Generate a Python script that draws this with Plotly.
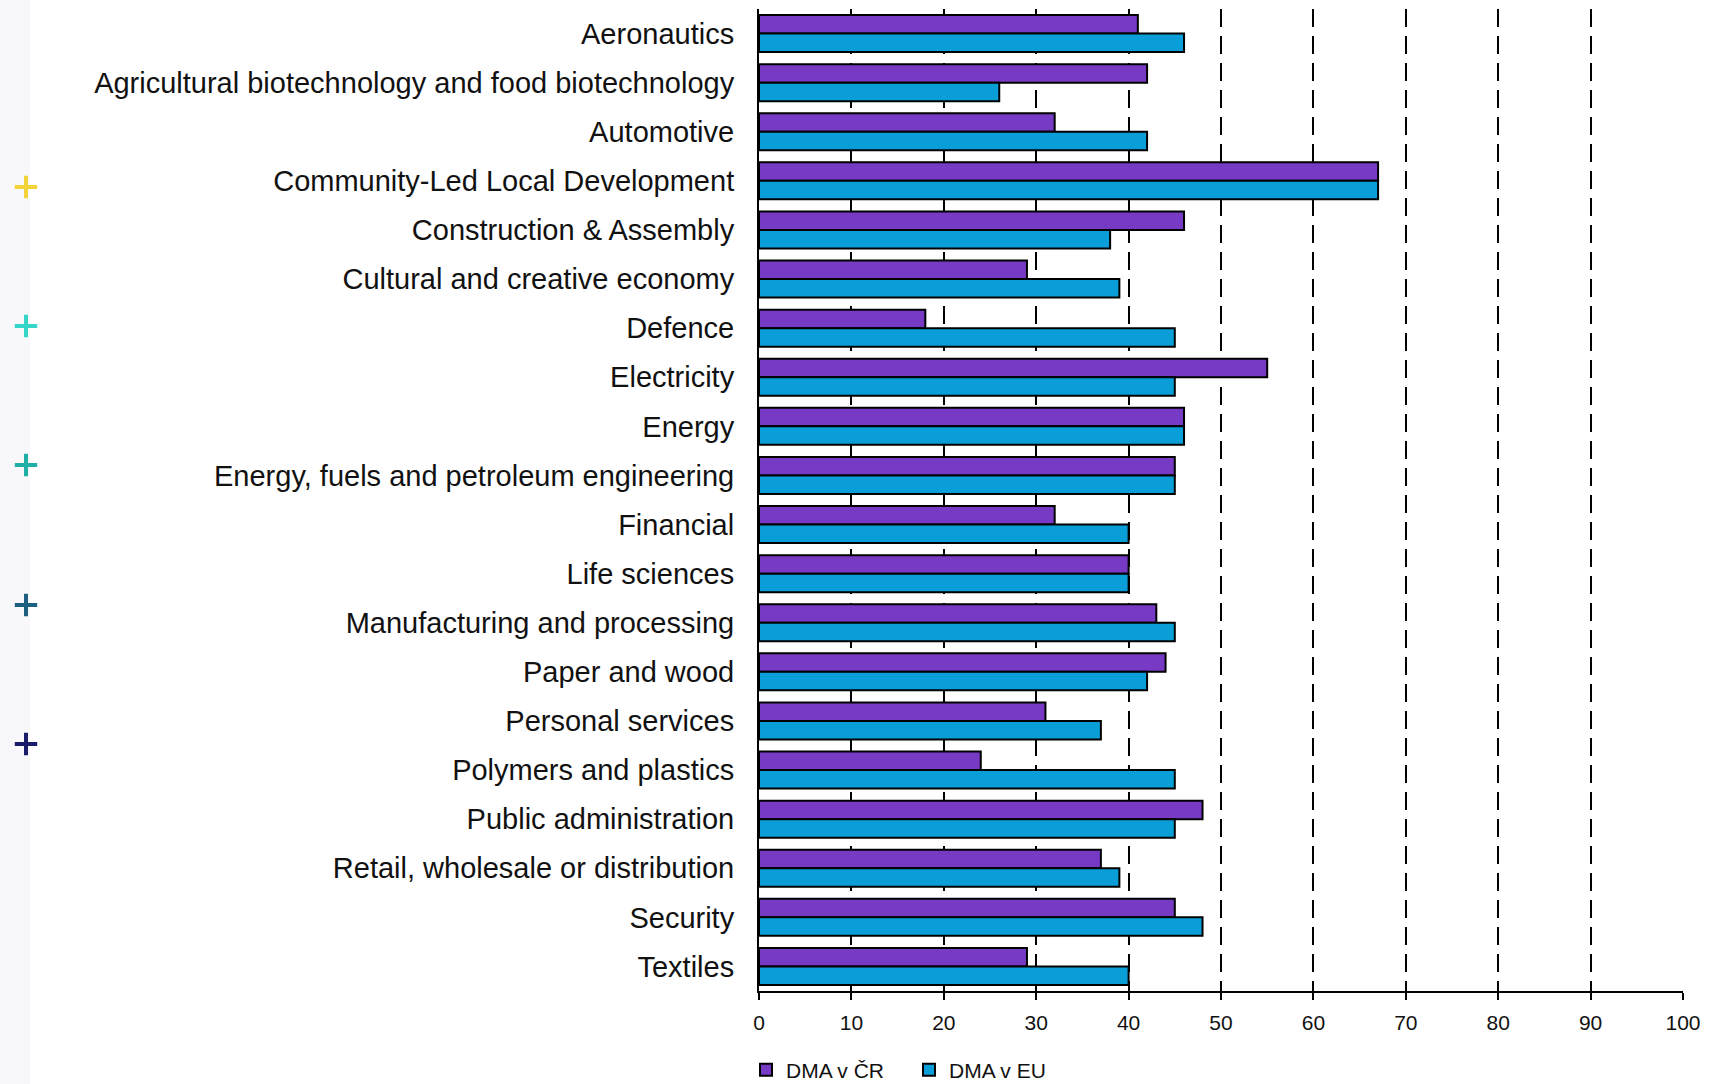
import plotly.graph_objects as go

# sector names, top to bottom
sectors = [
    "Aeronautics",
    "Agricultural biotechnology and food biotechnology",
    "Automotive",
    "Community-Led Local Development",
    "Construction & Assembly",
    "Cultural and creative economy",
    "Defence",
    "Electricity",
    "Energy",
    "Energy, fuels and petroleum engineering",
    "Financial",
    "Life sciences",
    "Manufacturing and processing",
    "Paper and wood",
    "Personal services",
    "Polymers and plastics",
    "Public administration",
    "Retail, wholesale or distribution",
    "Security",
    "Textiles",
]
dma_cr = [41, 42, 32, 67, 46, 29, 18, 55, 46, 45, 32, 40, 43, 44, 31, 24, 48, 37, 45, 29]
dma_eu = [46, 26, 42, 67, 38, 39, 45, 45, 46, 45, 40, 40, 45, 42, 37, 45, 45, 39, 48, 40]

x_ticks = [0, 10, 20, 30, 40, 50, 60, 70, 80, 90, 100]

# little plus markers in the left strip
plus_y = [187, 326, 465, 605, 744]
plus_colors = ["#F2D43A", "#35D6C8", "#1FAFA6", "#1D5F80", "#1B1B6B"]

W, H = 1709, 1084
L, R, T, B = 0, 26, 9, 93
plot_left = 759
dom0 = (plot_left - L) / (W - L - R)

fig = go.Figure()
fig.add_trace(go.Bar(
    y=sectors, x=dma_cr, orientation="h", name="DMA v ČR",
    marker=dict(color="#773AC4", line=dict(color="black", width=2)),
))
fig.add_trace(go.Bar(
    y=sectors, x=dma_eu, orientation="h", name="DMA v EU",
    marker=dict(color="#0A9ED9", line=dict(color="black", width=2)),
))
fig.add_trace(go.Scatter(
    x=[26] * len(plus_y), y=plus_y, mode="markers", showlegend=False,
    xaxis="x2", yaxis="y2", hoverinfo="skip",
    marker=dict(symbol="cross-thin", size=16, line=dict(width=4, color=plus_colors)),
))

fig.update_layout(
    width=W, height=H,
    margin=dict(l=L, r=R, t=T, b=B, autoexpand=False),
    paper_bgcolor="white", plot_bgcolor="white",
    barmode="group", bargap=0.247, bargroupgap=0,
    font=dict(family="Liberation Sans, Arial", color="#111111"),
    showlegend=True,
    legend=dict(orientation="h", x=(746 - L) / (W - L - R), xanchor="left",
                y=-79 / (H - T - B), yanchor="middle",
                font=dict(size=21), itemwidth=30, tracegroupgap=0,
                entrywidth=118, entrywidthmode="pixels",
                bgcolor="rgba(0,0,0,0)"),
    xaxis=dict(domain=[dom0, 1], range=[0, 100], tickvals=x_ticks, automargin=False,
               showgrid=True, gridcolor="black", gridwidth=1.5, griddash="18px,9px",
               zeroline=False, showline=True, linecolor="black", linewidth=2,
               ticks="outside", ticklen=7, tickwidth=2, tickcolor="black",
               ticklabelstandoff=5,
               tickfont=dict(family="Liberation Sans, Arial", size=21)),
    yaxis=dict(autorange="reversed", showline=True, linecolor="black", linewidth=2,
               showgrid=False, ticks="", ticklabelstandoff=17, automargin=False,
               tickfont=dict(size=29)),
    xaxis2=dict(domain=[0, 60 / (W - L - R)], range=[0, 60], visible=False, anchor="y2"),
    yaxis2=dict(domain=[0, 1], range=[H - B, T], visible=False, anchor="x2"),
    shapes=[dict(type="rect", xref="paper", yref="paper", x0=0, x1=30 / (W - L - R),
                 y0=-B / (H - T - B), y1=1 + T / (H - T - B),
                 fillcolor="#F8F8FA", line=dict(width=0), layer="below")],
)

fig.write_html("out.html", config={"displayModeBar": False},
               post_script="document.body.style.margin='0';")
